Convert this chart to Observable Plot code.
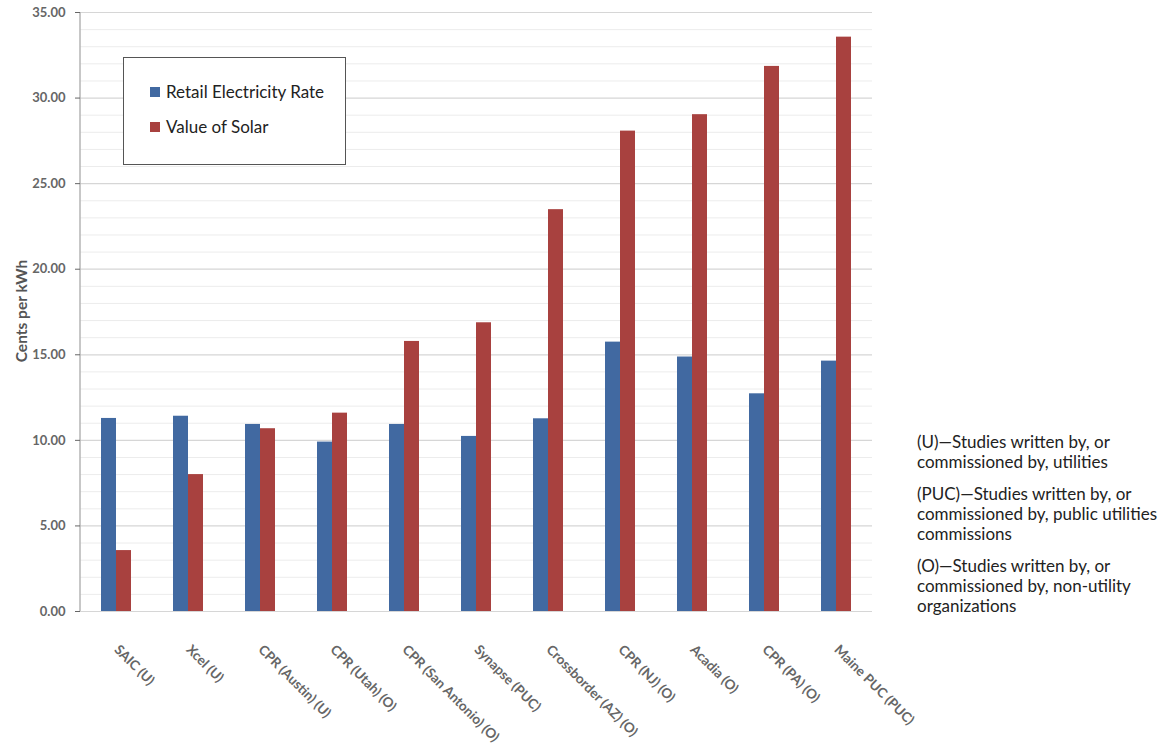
<!DOCTYPE html>
<html>
<head>
<meta charset="utf-8">
<script src="https://cdn.jsdelivr.net/npm/d3@7"></script>
<script src="https://cdn.jsdelivr.net/npm/@observablehq/plot@0.6"></script>
<style>
  body { margin: 0; background: #fff; }
  #wrap { position: relative; width: 1165px; height: 752px; font-family: Lato, "Open Sans", sans-serif; }
  #legend { position: absolute; left: 123px; top: 57px; width: 221px; height: 106px; border: 1.5px solid #555; background: #fff; }
  #legend .item { position: absolute; left: 26px; font-size: 17px; color: #222; display: flex; align-items: center; white-space: nowrap; }
  #legend .sw { width: 10px; height: 10px; margin-right: 6px; }
  #notes { position: absolute; left: 917px; top: 432px; font-size: 17px; line-height: 20px; color: #222; }
  #notes p { margin: 0 0 12px 0; }
  #title { position: absolute; left: 21px; top: 311px; transform: translate(-50%, -50%) rotate(-90deg); font-size: 15.5px; font-weight: 700; color: #555; white-space: nowrap; }
</style>
</head>
<body>
<div id="wrap"></div>
<script>
// ---- data ----
const studies = ["SAIC (U)", "Xcel (U)", "CPR (Austin) (U)", "CPR (Utah) (O)", "CPR (San Antonio) (O)",
  "Synapse (PUC)", "Crossborder (AZ) (O)", "CPR (NJ) (O)", "Acadia (O)", "CPR (PA) (O)", "Maine PUC (PUC)"];
const retailRate   = [11.28, 11.41, 10.93, 9.90, 10.93, 10.23, 11.26, 15.74, 14.87, 12.72, 14.63];
const valueOfSolar = [3.56, 8.00, 10.68, 11.59, 15.78, 16.87, 23.48, 28.07, 29.03, 31.85, 33.56];
const seriesNames = ["Retail Electricity Rate", "Value of Solar"];
const seriesColors = ["#4169a1", "#a8413f"];
const majorTicks = [0, 5, 10, 15, 20, 25, 30, 35];
const minorTicks = d3.range(0, 36, 1);
const yTitle = "Cents per kWh";
const notes = [
  ["(U)—Studies written by, or", "commissioned by, utilities"],
  ["(PUC)—Studies written by, or", "commissioned by, public utilities", "commissions"],
  ["(O)—Studies written by, or", "commissioned by, non-utility", "organizations"]
];

const retailRows = studies.map((s, i) => ({study: s, value: retailRate[i]}));
const solarRows = studies.map((s, i) => ({study: s, value: valueOfSolar[i]}));

const W = 1165, H = 752, mL = 80, mR = 293, mT = 12, mB = 141;
const band = (W - mL - mR) / studies.length;
const barW = 15;

const yAxisLine = (index, scales, values, dimensions) => {
  const g = d3.create("svg:g");
  g.append("line")
    .attr("x1", dimensions.marginLeft).attr("x2", dimensions.marginLeft)
    .attr("y1", scales.y(0)).attr("y2", scales.y(35))
    .attr("stroke", "#b5b5b5").attr("stroke-width", 1.5);
  return g.node();
};

const chart = Plot.plot({
  width: W, height: H,
  marginLeft: mL, marginRight: mR, marginTop: mT, marginBottom: mB,
  style: {fontFamily: "Lato, 'Open Sans', sans-serif", background: "#fff"},
  x: {domain: studies, padding: 0, label: null},
  y: {domain: [0, 35], label: null},
  marks: [
    Plot.ruleY(minorTicks.filter(d => d % 5 !== 0), {stroke: "#ececec", strokeWidth: 1}),
    Plot.ruleY(majorTicks, {stroke: "#d6d6d6", strokeWidth: 1.2}),
    Plot.barY(retailRows, {x: "study", y: "value", fill: seriesColors[0],
      insetLeft: band / 2 - barW, insetRight: band / 2}),
    Plot.barY(solarRows, {x: "study", y: "value", fill: seriesColors[1],
      insetLeft: band / 2, insetRight: band / 2 - barW}),
    yAxisLine,
    Plot.axisY({ticks: majorTicks, tickFormat: d3.format(".2f"), tickSize: 5, tickPadding: 10,
      fontSize: 13, fontWeight: 700, color: "#666", label: null}),
    Plot.axisX({tickRotate: 45, tickSize: 0, tickPadding: 36, fontSize: 13.5, fontWeight: 700,
      color: "#666", label: null})
  ]
});

const wrap = document.getElementById("wrap");
wrap.appendChild(chart);

const title = document.createElement("div");
title.id = "title"; title.textContent = yTitle;
wrap.appendChild(title);

const legend = document.createElement("div");
legend.id = "legend";
seriesNames.forEach((name, i) => {
  const it = document.createElement("div");
  it.className = "item";
  it.style.top = (i === 0 ? 23 : 58) + "px";
  const sw = document.createElement("span");
  sw.className = "sw"; sw.style.background = seriesColors[i];
  it.appendChild(sw);
  it.appendChild(document.createTextNode(name));
  legend.appendChild(it);
});
wrap.appendChild(legend);

const notesDiv = document.createElement("div");
notesDiv.id = "notes";
notes.forEach(lines => {
  const p = document.createElement("p");
  lines.forEach((l, j) => {
    if (j) p.appendChild(document.createElement("br"));
    p.appendChild(document.createTextNode(l));
  });
  notesDiv.appendChild(p);
});
wrap.appendChild(notesDiv);
</script>
</body>
</html>
